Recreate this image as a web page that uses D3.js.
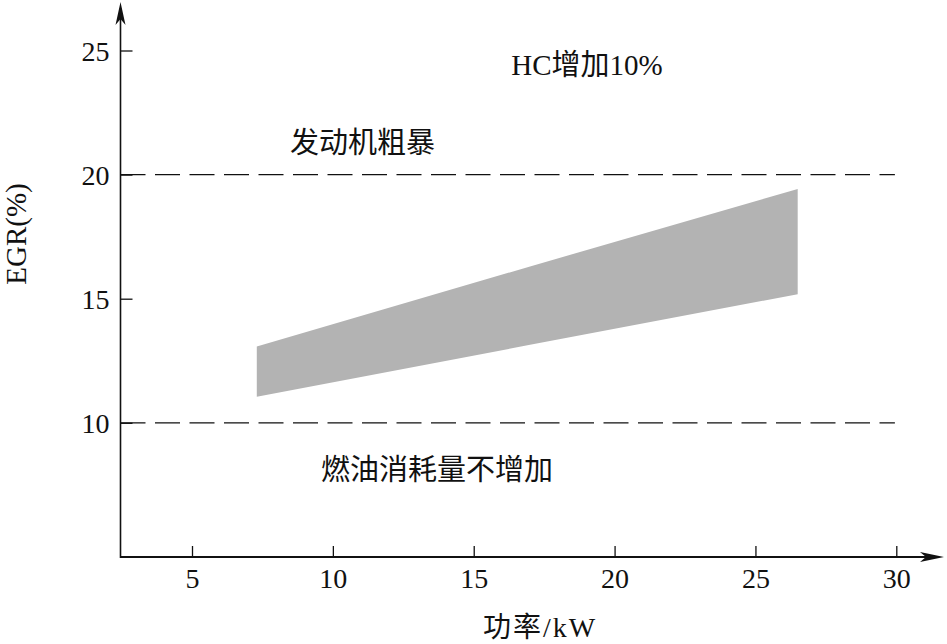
<!DOCTYPE html>
<html>
<head>
<meta charset="utf-8">
<script src="https://cdn.jsdelivr.net/npm/d3@7"></script>
<style>
  html, body { margin: 0; padding: 0; background: #fff; }
  svg { display: block; }
  text { font-family: "Liberation Serif", "Noto Sans CJK SC", serif; fill: #111; }
</style>
</head>
<body>
<script>
// ---- data ----
const xTicks = [5, 10, 15, 20, 25, 30];
const yTicks = [10, 15, 20, 25];
const bandPower = [7.3, 17, 26.5];        // kW
const bandUpper = [13.07, 16.3, 19.42];   // EGR %
const bandLower = [11.05, 13.14, 15.18];  // EGR %
const limitLines = [20, 10];
const labels = [
  { text: "HC增加10%", x: 16.33, y: 24.0 },
  { text: "发动机粗暴", x: 8.48, y: 20.87 },
  { text: "燃油消耗量不增加", x: 9.58, y: 7.7 }
];
const xTitle = "功率/kW";
const yTitle = "EGR(%)";

// ---- layout ----
const W = 947, H = 644;
const svg = d3.select("body").append("svg").attr("width", W).attr("height", H);

const x = d3.scaleLinear().domain([5, 30]).range([192, 896.3]);
const y = d3.scaleLinear().domain([10, 25]).range([422.8, 50.5]);
const xMin = x.invert(120.5), xMax = x.invert(944);
const yMin = y.invert(557), yMax = y.invert(2);

// band
const band = bandPower.map((p, i) => ({ p, lo: bandLower[i], hi: bandUpper[i] }));
svg.append("path")
  .datum(band)
  .attr("fill", "#b3b3b3")
  .attr("d", d3.area().x(d => x(d.p)).y0(d => y(d.lo)).y1(d => y(d.hi)));

// dashed limit lines
svg.selectAll("line.limit").data(limitLines).join("line")
  .attr("class", "limit")
  .attr("x1", x(xMin)).attr("x2", x(29.95))
  .attr("y1", d => y(d)).attr("y2", d => y(d))
  .attr("stroke", "#111").attr("stroke-width", 1.3)
  .attr("stroke-dasharray", "25,9.5");

// axes (ticks inside)
const xAxis = d3.axisBottom(x).tickValues(xTicks).tickSize(0).tickSizeOuter(0).tickPadding(0);
const gx = svg.append("g").attr("transform", `translate(0,${y(yMin)})`).call(xAxis);
gx.select(".domain").remove();
gx.selectAll(".tick line").attr("y2", -11).attr("stroke", "#111").attr("stroke-width", 1.3);
gx.selectAll(".tick text").attr("y", 31).attr("dy", 0).attr("font-size", 28)
  .style("font-family", "Liberation Serif").attr("fill", "#111");

const yAxis = d3.axisLeft(y).tickValues(yTicks).tickSize(0).tickSizeOuter(0).tickPadding(0);
const gy = svg.append("g").attr("transform", `translate(${x(xMin)},0)`).call(yAxis);
gy.select(".domain").remove();
gy.selectAll(".tick line").attr("x2", 12).attr("stroke", "#111").attr("stroke-width", 1.3);
gy.selectAll(".tick text").attr("x", -11).attr("dy", "0.34em").attr("font-size", 28)
  .style("font-family", "Liberation Serif").attr("fill", "#111");

// axis lines with arrows
const ox = x(xMin), oy = y(yMin);
svg.append("line").attr("x1", ox).attr("x2", x(xMax) - 6).attr("y1", oy).attr("y2", oy)
  .attr("stroke", "#111").attr("stroke-width", 2.2);
svg.append("line").attr("x1", ox).attr("x2", ox).attr("y1", oy + 1).attr("y2", y(yMax) + 6)
  .attr("stroke", "#111").attr("stroke-width", 1.6);
const tx = x(xMax), ty = y(yMax);
svg.append("path").attr("fill", "#111")
  .attr("d", `M${tx},${oy} L${tx - 24},${oy - 5} L${tx - 18},${oy} L${tx - 24},${oy + 5} Z`);
svg.append("path").attr("fill", "#111")
  .attr("d", `M${ox},${ty} L${ox - 5},${ty + 23} L${ox},${ty + 17} L${ox + 5},${ty + 23} Z`);

// annotations
svg.selectAll("text.note").data(labels).join("text")
  .attr("class", "note")
  .attr("x", d => x(d.x)).attr("y", d => y(d.y))
  .attr("font-size", 29)
  .text(d => d.text);

// axis titles
svg.append("text").attr("x", 540).attr("y", 637).attr("text-anchor", "middle")
  .attr("font-size", 28).attr("letter-spacing", 2).text(xTitle);
svg.append("text").attr("transform", "translate(26,234) rotate(-90)")
  .attr("text-anchor", "middle").attr("font-size", 29).text(yTitle);
</script>
</body>
</html>
